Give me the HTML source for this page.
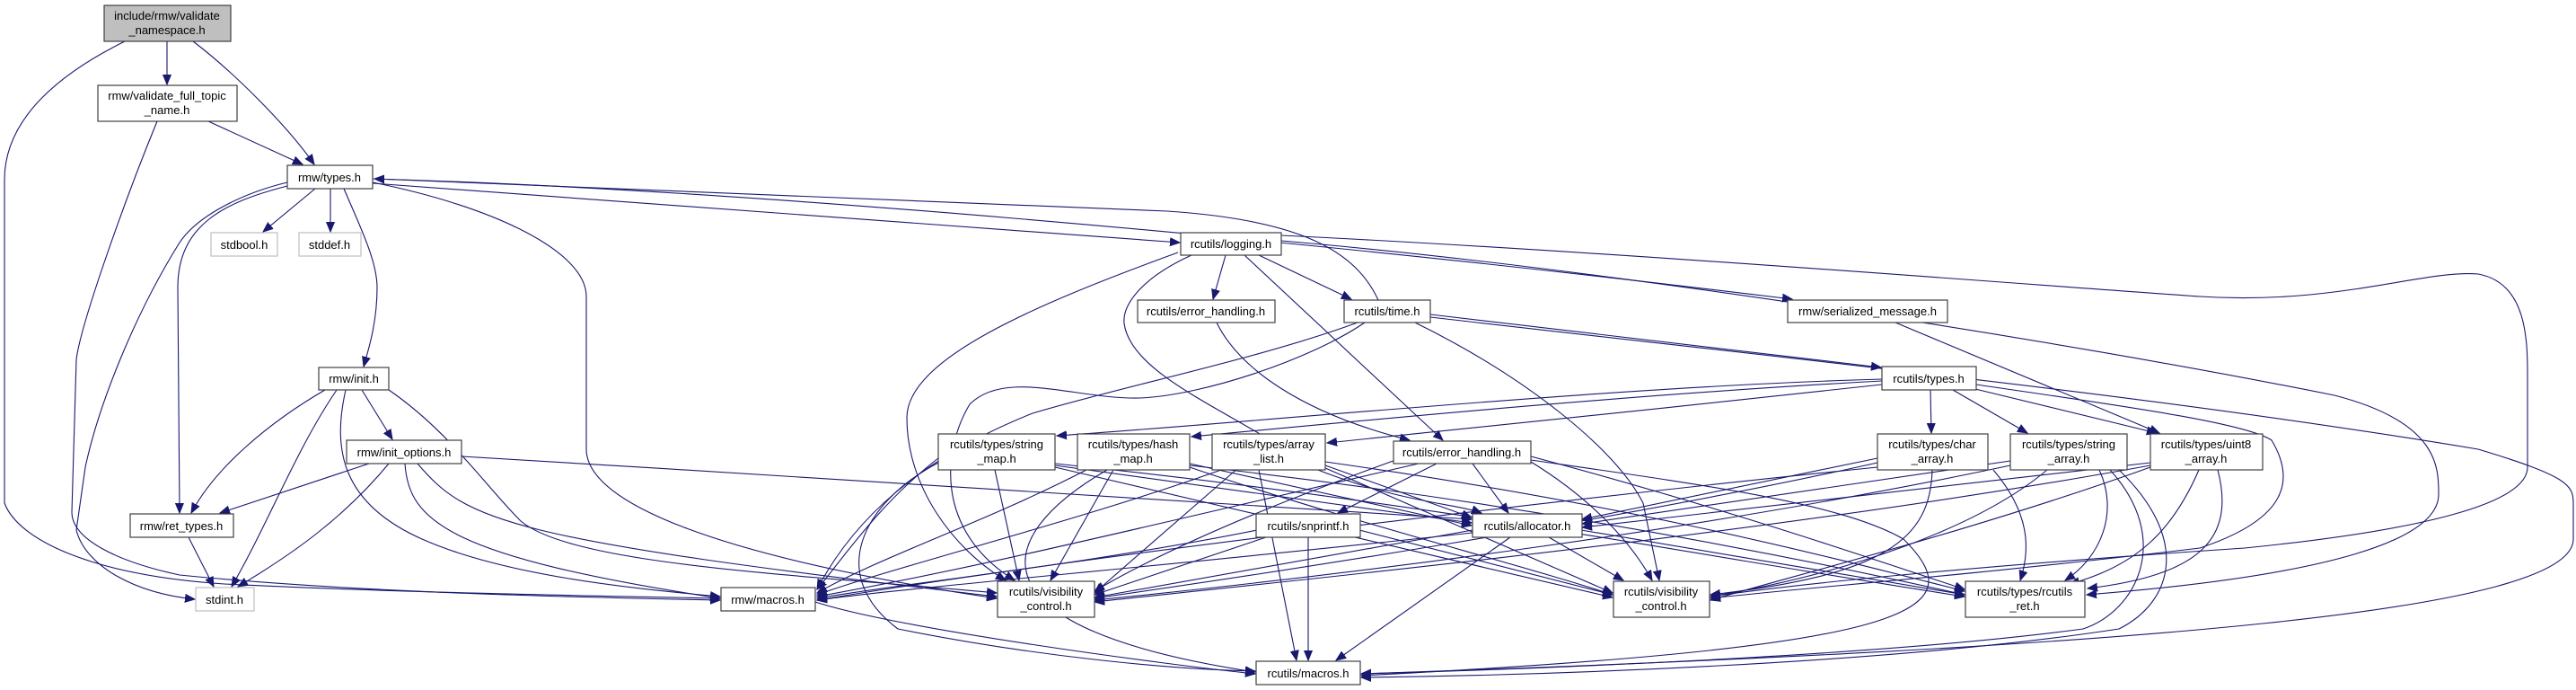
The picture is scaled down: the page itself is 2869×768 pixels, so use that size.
<!DOCTYPE html>
<html><head><meta charset="utf-8"><style>
html,body{margin:0;padding:0;background:#fff;}
svg{display:block;}
text{font-family:"Liberation Sans",sans-serif;font-size:13px;fill:#000;text-anchor:middle;}
.n{fill:#fff;stroke:#404040;stroke-width:1.2;}
.g{fill:#fff;stroke:#bfbfbf;stroke-width:1.2;}
.e{fill:none;stroke:#191970;stroke-width:1.1;}
</style></head><body>
<svg width="2869" height="768" viewBox="0 0 2869 768" xmlns="http://www.w3.org/2000/svg">
<defs>
<marker id="a" markerUnits="userSpaceOnUse" markerWidth="12" markerHeight="10" refX="11" refY="5" orient="auto">
<polygon points="0,0.5 11,5 0,9.5" fill="#191970" stroke="#191970"/>
</marker>
</defs>
<g class="e" marker-end="url(#a)">
<!-- rmw top -->
<path d="M186,46 L186,94"/>
<path d="M215,46 C260,80 320,140 350,183"/>
<path d="M139,46 C70,80 5,130 5,200 L5,560 C20,600 100,640 250,650 C450,660 700,664 802,666"/>
<path d="M232,135 L337,183"/>
<path d="M175,135 C140,220 90,360 85,400 L80,570 C80,600 130,625 200,640 C400,660 650,665 802,668"/>
<path d="M351,210 L293,258"/>
<path d="M368,210 L368,258"/>
<path d="M383,210 C400,250 420,290 420,320 C420,360 410,390 405,408"/>
<path d="M320,203 C270,215 220,240 200,270 C150,350 110,450 95,520 L85,590 C95,630 150,660 217,667"/>
<path d="M320,207 C250,225 198,250 198,320 L200,571"/>
<path d="M415,204 L1314,270"/>
<path d="M415,199 C800,210 1400,260 1996,333"/>
<path d="M415,203 C550,230 653,280 653,330 L653,500 C653,560 800,620 1110,666"/>
<path d="M1535,334 C1510,280 1450,245 1300,235 L417,199"/>
<path d="M1427,262 C1800,280 2300,320 2450,330 C2600,340 2700,300 2760,305 C2815,315 2815,380 2815,420 L2815,520 C2815,560 2700,590 2500,610 C2200,630 2000,650 1905,664"/>
<path d="M1427,268 C1800,300 2300,380 2600,440 C2716,470 2716,520 2716,550 C2716,600 2600,640 2324,662"/>
<path d="M1593,353 C2000,400 2400,440 2760,500 C2860,530 2866,540 2866,560 L2866,600 C2866,680 2400,720 1516,750"/>
<!-- rmw init -->
<path d="M362,434 C300,470 240,520 213,571"/>
<path d="M375,434 C330,500 300,580 258,653"/>
<path d="M385,434 C370,500 380,560 470,600 C560,640 700,655 802,664"/>
<path d="M403,434 L437,489"/>
<path d="M433,434 C500,480 540,540 580,580 C640,630 900,640 1110,660"/>
<path d="M411,516 L245,571"/>
<path d="M433,516 C380,580 320,620 265,653"/>
<path d="M451,516 C455,580 500,620 802,666"/>
<path d="M465,516 C520,580 560,600 1110,664"/>
<path d="M514,508 C900,530 1300,560 1639,578"/>
<path d="M210,598 L238,653"/>
<!-- logging -->
<path d="M1365,284 L1351,333"/>
<path d="M1402,284 L1505,333"/>
<path d="M1386,284 L1607,490"/>
<path d="M1327,284 C1270,310 1250,340 1252,360 C1260,420 1380,460 1460,520 C1560,560 1620,560 1650,571"/>
<path d="M1312,281 C1150,340 1010,400 1010,465 C1010,540 1060,610 1120,646"/>
<path d="M1355,359 C1380,410 1450,460 1570,490"/>
<!-- time -->
<path d="M1593,350 L2095,409"/>
<path d="M1576,359 C1700,420 1800,500 1830,560 L1848,646"/>
<path d="M1512,359 C1400,400 1250,430 1150,460 C1050,500 960,560 910,656"/>
<path d="M1520,359 C1460,400 1340,440 1270,443 C1200,445 1120,410 1080,450 C1050,500 1040,590 1130,646"/>
<!-- serialized -->
<path d="M2111,359 L2405,482"/>
<!-- rcutils types -->
<path d="M2096,422 C1800,430 1400,470 1177,485"/>
<path d="M2096,424 C1800,440 1500,470 1327,486"/>
<path d="M2096,428 C1900,450 1600,480 1478,493"/>
<path d="M2150,434 L2151,482"/>
<path d="M2175,434 L2258,482"/>
<path d="M2200,433 L2402,482"/>
<path d="M2201,428 C2350,450 2500,470 2530,490 C2560,540 2540,580 2450,610 C2200,640 2000,655 1905,666"/>
<!-- string_map -->
<path d="M1045,510 C980,560 940,620 910,656"/>
<path d="M1108,523 L1135,646"/>
<path d="M1175,518 L1639,582"/>
<path d="M1175,520 L1796,665"/>
<path d="M1175,516 C1600,560 1900,620 2188,664"/>
<path d="M1045,515 C960,560 920,640 1000,700 C1150,730 1300,745 1398,747"/>
<!-- hash_map -->
<path d="M1210,523 C1100,580 980,620 910,660"/>
<path d="M1240,523 L1170,646"/>
<path d="M1325,516 L1639,585"/>
<path d="M1325,520 C1500,580 1700,630 1796,662"/>
<path d="M1325,518 C1700,560 2000,620 2188,662"/>
<path d="M1233,523 C1100,600 1080,700 1398,748"/>
<!-- array_list -->
<path d="M1360,523 C1200,580 1000,630 910,662"/>
<path d="M1380,520 L1219,660"/>
<path d="M1476,518 L1639,576"/>
<path d="M1476,521 L1796,660"/>
<path d="M1476,514 C1800,560 2000,610 2188,658"/>
<path d="M1402,523 L1444,735"/>
<!-- errh lower -->
<path d="M1600,516 L1490,571"/>
<path d="M1640,516 L1680,571"/>
<path d="M1560,510 C1420,560 1300,610 1219,658"/>
<path d="M1580,516 C1300,580 1100,630 910,664"/>
<path d="M1705,514 C1780,560 1820,610 1840,646"/>
<path d="M1705,508 C1900,560 2050,610 2188,656"/>
<path d="M1705,512 C1900,540 2050,560 2120,600 C2200,680 2140,720 1516,752"/>
<!-- snprintf -->
<path d="M1410,598 L1219,662"/>
<path d="M1457,598 L1457,735"/>
<path d="M1400,590 C1200,630 1000,650 910,666"/>
<path d="M1514,590 L1796,662"/>
<!-- allocator -->
<path d="M1640,590 L1219,665"/>
<path d="M1725,598 L1808,646"/>
<path d="M1682,598 L1488,735"/>
<path d="M1761,590 L2188,662"/>
<path d="M1640,593 C1300,630 1000,655 910,668"/>
<!-- char_array -->
<path d="M2091,510 L1762,578"/>
<path d="M2091,515 C1800,580 1400,640 1219,666"/>
<path d="M2152,523 C2150,600 2100,640 1905,662"/>
<path d="M2220,523 C2260,570 2262,610 2250,646"/>
<path d="M2091,520 C1700,560 1200,620 910,668"/>
<!-- string_array -->
<path d="M2239,513 L1762,583"/>
<path d="M2239,518 C1900,590 1500,640 1219,668"/>
<path d="M2280,523 C2200,590 2050,640 1905,664"/>
<path d="M2338,523 C2360,570 2340,620 2300,646"/>
<path d="M2350,523 C2420,600 2380,680 2320,700 C2100,730 1700,745 1516,750"/>
<path d="M2360,523 C2440,600 2420,670 2360,700 C2100,740 1700,752 1516,754"/>
<!-- uint8 -->
<path d="M2395,515 L1762,587"/>
<path d="M2395,518 C2000,590 1500,640 1219,670"/>
<path d="M2395,520 C2200,590 2000,640 1905,668"/>
<path d="M2449,523 C2420,590 2380,630 2305,650"/>
<path d="M2470,523 C2490,600 2450,640 2325,655"/>
<!-- macros right -->
<path d="M908,670 C1000,700 1300,740 1398,750"/>
</g>
<!-- nodes -->
<rect x="116" y="6" width="141" height="40" fill="#bfbfbf" stroke="#404040" stroke-width="1.2"/>
<text x="186" y="22">include/rmw/validate</text><text x="186" y="38">_namespace.h</text>
<rect class="n" x="109" y="95" width="155" height="40"/>
<text x="186" y="111">rmw/validate_full_topic</text><text x="186" y="127">_name.h</text>
<rect class="n" x="320" y="184" width="95" height="26"/><text x="367" y="202">rmw/types.h</text>
<rect class="g" x="235" y="259" width="74" height="26"/><text x="272" y="277">stdbool.h</text>
<rect class="g" x="333" y="259" width="69" height="26"/><text x="367" y="277">stddef.h</text>
<rect class="n" x="355" y="409" width="78" height="25"/><text x="394" y="426">rmw/init.h</text>
<rect class="n" x="386" y="490" width="128" height="26"/><text x="450" y="508">rmw/init_options.h</text>
<rect class="n" x="145" y="572" width="115" height="26"/><text x="202" y="590">rmw/ret_types.h</text>
<rect class="g" x="218" y="654" width="65" height="26"/><text x="250" y="672">stdint.h</text>
<rect class="n" x="803" y="654" width="105" height="26"/><text x="855" y="672">rmw/macros.h</text>
<rect class="n" x="1315" y="259" width="112" height="25"/><text x="1371" y="276">rcutils/logging.h</text>
<rect class="n" x="1267" y="334" width="153" height="25"/><text x="1343" y="351">rcutils/error_handling.h</text>
<rect class="n" x="1497" y="334" width="96" height="25"/><text x="1545" y="351">rcutils/time.h</text>
<rect class="n" x="1991" y="334" width="178" height="25"/><text x="2080" y="351">rmw/serialized_message.h</text>
<rect class="n" x="2096" y="408" width="105" height="26"/><text x="2148" y="426">rcutils/types.h</text>
<rect class="n" x="1045" y="483" width="130" height="40"/><text x="1110" y="499">rcutils/types/string</text><text x="1110" y="515">_map.h</text>
<rect class="n" x="1200" y="483" width="125" height="40"/><text x="1262" y="499">rcutils/types/hash</text><text x="1262" y="515">_map.h</text>
<rect class="n" x="1350" y="483" width="126" height="40"/><text x="1413" y="499">rcutils/types/array</text><text x="1413" y="515">_list.h</text>
<rect class="n" x="1552" y="491" width="153" height="25"/><text x="1628" y="508">rcutils/error_handling.h</text>
<rect class="n" x="2091" y="483" width="123" height="40"/><text x="2152" y="499">rcutils/types/char</text><text x="2152" y="515">_array.h</text>
<rect class="n" x="2239" y="483" width="130" height="40"/><text x="2304" y="499">rcutils/types/string</text><text x="2304" y="515">_array.h</text>
<rect class="n" x="2395" y="483" width="125" height="40"/><text x="2457" y="499">rcutils/types/uint8</text><text x="2457" y="515">_array.h</text>
<rect class="n" x="1399" y="572" width="116" height="26"/><text x="1457" y="590">rcutils/snprintf.h</text>
<rect class="n" x="1640" y="572" width="122" height="26"/><text x="1701" y="590">rcutils/allocator.h</text>
<rect class="n" x="1111" y="647" width="108" height="40"/><text x="1165" y="663">rcutils/visibility</text><text x="1165" y="679">_control.h</text>
<rect class="n" x="1797" y="647" width="107" height="40"/><text x="1850" y="663">rcutils/visibility</text><text x="1850" y="679">_control.h</text>
<rect class="n" x="2189" y="647" width="133" height="40"/><text x="2255" y="663">rcutils/types/rcutils</text><text x="2255" y="679">_ret.h</text>
<rect class="n" x="1399" y="736" width="116" height="26"/><text x="1457" y="754">rcutils/macros.h</text>
</svg>
</body></html>
